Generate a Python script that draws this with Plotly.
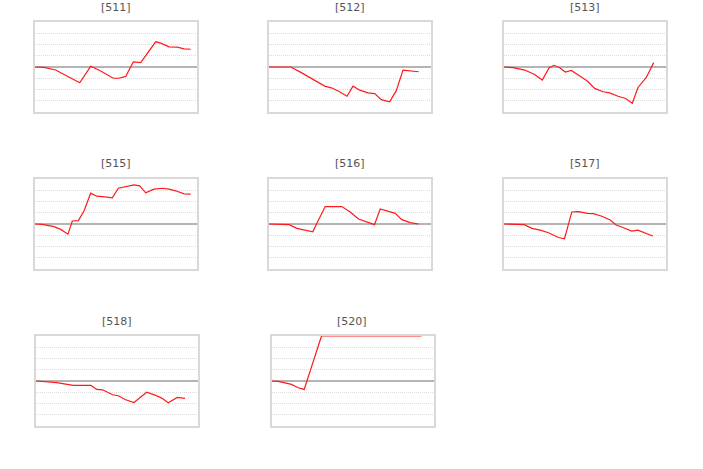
import plotly.graph_objects as go

# ---- data (x = day offset, y = value) ----
titles = ["[511]", "[512]", "[513]", "[515]", "[516]", "[517]", "[518]", "[520]"]

x511 = [0, 9, 20.7, 44.7, 55.7, 65.7, 78.3, 84, 90.7, 98.3, 105.7, 120.7, 125.7, 134, 142.3, 149, 155.7]
y511 = [0, -0.03, -0.27, -1.4, 0.06, -0.36, -1.0, -1.0, -0.84, 0.45, 0.39, 2.24, 2.12, 1.79, 1.76, 1.61, 1.58]

x512 = [0, 21.7, 32.3, 44, 55.7, 62.3, 69.7, 78, 84, 90.7, 99, 105.7, 112.3, 120.7, 127.3, 134, 142.3, 149.7]
y512 = [0, 0, -0.5, -1.1, -1.7, -1.85, -2.15, -2.6, -1.7, -2.06, -2.3, -2.36, -2.9, -3.1, -2.1, -0.27, -0.33, -0.42]

x513 = [0, 9, 20.7, 30.7, 38.3, 45, 50, 55.7, 61.3, 67.3, 75, 83, 90.7, 99, 105.7, 114, 121.7, 128.3, 134, 142.3, 149.7]
y513 = [0, -0.06, -0.27, -0.66, -1.16, -0.09, 0.15, -0.06, -0.45, -0.3, -0.75, -1.22, -1.9, -2.2, -2.3, -2.6, -2.8, -3.22, -1.82, -0.93, 0.39]

x515 = [0, 7.3, 19, 25.7, 33, 37.3, 43.3, 49, 55.7, 61.7, 70, 77.3, 83.3, 90.7, 99, 104.7, 110.7, 119, 127.3, 134, 140.7, 149, 155.7]
y515 = [0, -0.03, -0.24, -0.48, -0.9, 0.27, 0.3, 1.16, 2.74, 2.47, 2.41, 2.32, 3.18, 3.3, 3.48, 3.39, 2.77, 3.1, 3.18, 3.1, 2.95, 2.68, 2.65]

x516 = [0, 20.7, 28.3, 36.7, 44.3, 50, 56.7, 73.3, 81.7, 90, 98.3, 106, 111.7, 120, 126.7, 133.3, 141.7, 150]
y516 = [0, -0.06, -0.39, -0.57, -0.69, 0.36, 1.55, 1.55, 1.07, 0.45, 0.21, -0.06, 1.34, 1.1, 0.95, 0.39, 0.12, 0]

x517 = [0, 20.7, 28.3, 36.7, 45, 55, 61, 68.3, 75, 84, 90, 98.3, 106.7, 112.7, 120, 128.3, 134.3, 141.7, 149.3]
y517 = [0, -0.06, -0.39, -0.54, -0.78, -1.2, -1.31, 1.07, 1.1, 0.95, 0.92, 0.69, 0.36, -0.09, -0.33, -0.63, -0.54, -0.78, -1.07]

x518 = [0, 20.7, 37.3, 55, 60.7, 66.7, 76.7, 82.3, 89, 98, 104.7, 110.7, 119, 125.7, 132.3, 141.3, 149]
y518 = [0, -0.15, -0.39, -0.39, -0.75, -0.78, -1.22, -1.31, -1.64, -1.91, -1.43, -1.0, -1.25, -1.52, -1.94, -1.46, -1.55]

x520 = [0, 6.7, 20, 26.7, 32.7, 50, 150]
y520 = [0, -0.03, -0.3, -0.6, -0.75, 4.0, 4.0]

series = [(x511, y511), (x512, y512), (x513, y513), (x515, y515),
          (x516, y516), (x517, y517), (x518, y518), (x520, y520)]

# ---- layout geometry (page pixels) ----
W, H = 703, 469
panel_x = [(35, 197), (269, 431), (504, 666),
           (35, 197), (268.5, 430.5), (503.5, 665.5),
           (36, 198), (271.5, 433.5)]
row_px = [(22, 112), (179, 269), (336, 426)]

fig = go.Figure()
annotations = []
for i, (xs, ys) in enumerate(series):
    r = i // 3
    n = i + 1
    xa = "x" if n == 1 else f"x{n}"
    ya = "y" if n == 1 else f"y{n}"
    fig.add_trace(go.Scatter(x=xs, y=ys, mode="lines",
                             line=dict(color="#ff1a1a", width=1.2),
                             xaxis=xa, yaxis=ya, showlegend=False,
                             hoverinfo="skip"))
    x0, x1 = panel_x[i]
    t0, t1 = row_px[r]
    xdom = [x0 / W, x1 / W]
    ydom = [1 - t1 / H, 1 - t0 / H]
    xk = "xaxis" if n == 1 else f"xaxis{n}"
    yk = "yaxis" if n == 1 else f"yaxis{n}"
    fig.update_layout(**{
        xk: dict(domain=xdom, range=[0, 162], showgrid=False, zeroline=False,
                 showticklabels=False, ticks="", showline=True, mirror=True,
                 linecolor="#d9d9d9", linewidth=2, anchor=ya, fixedrange=True),
        yk: dict(domain=ydom, range=[-4, 4], dtick=1, showgrid=True,
                 gridcolor="#dcdcdc", griddash="1px,1px", gridwidth=1,
                 zeroline=True, zerolinecolor="#b4b4b4", zerolinewidth=2,
                 showticklabels=False, ticks="", showline=True, mirror=True,
                 linecolor="#d9d9d9", linewidth=2, anchor=xa, fixedrange=True),
    })
    annotations.append(dict(text=titles[i], x=(x0 + x1) / 2 / W, y=1 - (t0 - 15) / H,
                            xref="paper", yref="paper", showarrow=False,
                            xanchor="center", yanchor="middle",
                            font=dict(size=11, color="#555555",
                                      family="DejaVu Sans, Verdana, sans-serif")))

fig.update_layout(width=W, height=H, margin=dict(l=0, r=0, t=0, b=0),
                  paper_bgcolor="white", plot_bgcolor="white",
                  annotations=annotations)

fig.write_html("out.html", config={"displayModeBar": False},
               post_script="document.body.style.margin='0';document.body.style.overflow='hidden';")
